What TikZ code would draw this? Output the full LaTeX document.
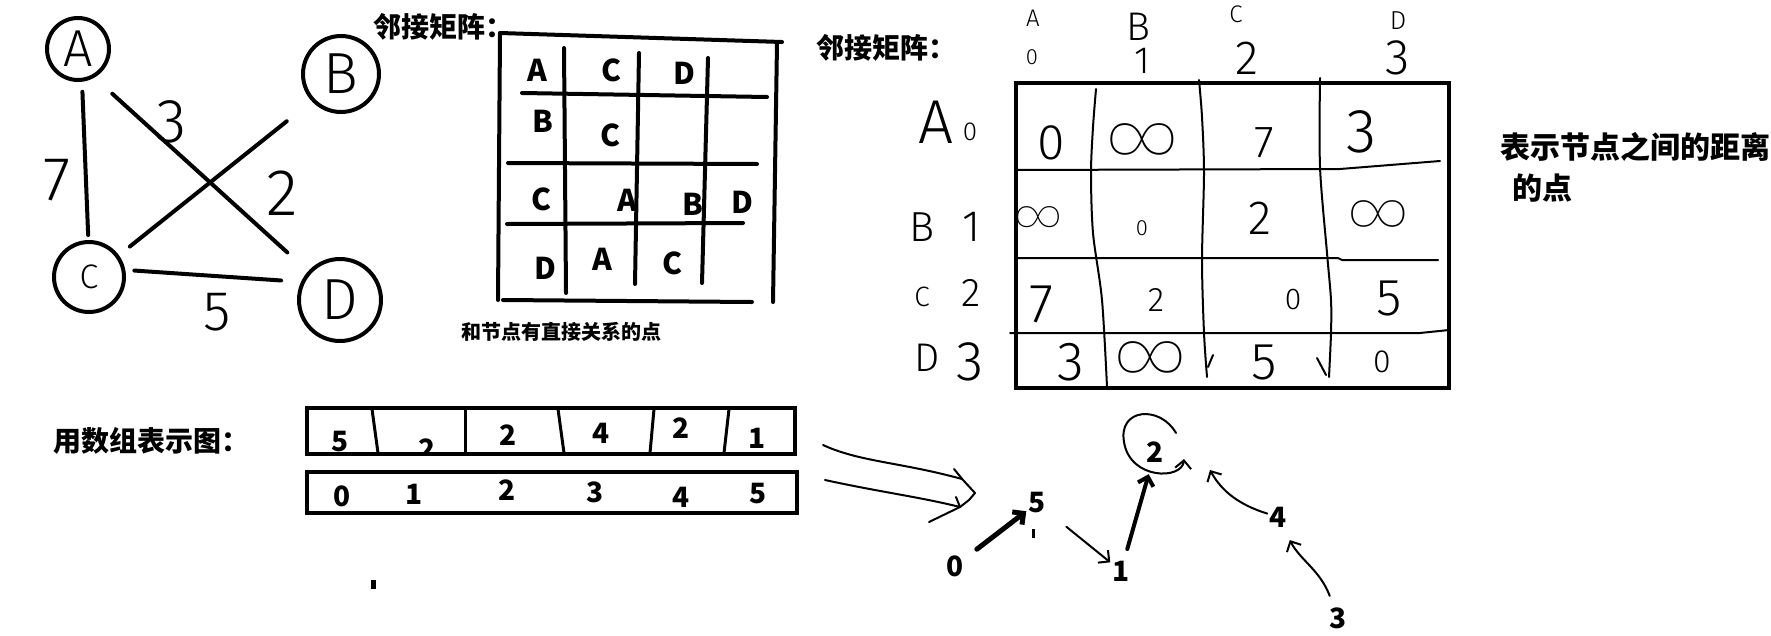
\RequirePackage{fix-cm}
\documentclass[tikz,border=0pt]{standalone}
\usepackage{fontspec}
\newfontfamily\cjk{Noto Sans CJK SC}
\newfontfamily\hand{Fira Sans Light}
\newfontfamily\thin{Fira Sans Thin}
\usetikzlibrary{arrows.meta,positioning}
\tikzstyle{line} = [line width=4pt,line cap=round]
\tikzstyle{pen} = [line width=2pt,line cap=round,line join=round]
\tikzstyle{pen>} = [pen,-{Straight Barb[length=8pt,width=16pt]}]
\tikzstyle{vertex} = [circle,draw,line width=4pt,inner sep=0pt]
\tikzstyle{printed} = [font=\cjk\bfseries\fontsize{28}{28}\selectfont,inner sep=0pt]
\tikzstyle{title} = [printed,anchor=west]
\tikzstyle{cell} = [font=\cjk\bfseries\fontsize{30}{30}\selectfont,inner sep=0pt]
\tikzset{scrawl/.style={font=\hand\fontsize{#1}{#1}\selectfont,inner sep=0pt},
         loops/.style={font=\thin\fontsize{#1}{#1}\selectfont,inner sep=0pt}}

\begin{document}
\begin{tikzpicture}[x=1pt,y=-1pt]
        \useasboundingbox (0,0) rectangle (1771,635);
        % graph
        \node[vertex,minimum size=62pt,scrawl=52] (A) at (78,49) {A};
        \node[vertex,minimum size=76pt,scrawl=58] (B) at (341,74) {B};
        \node[vertex,minimum size=70pt,scrawl=34] (C) at (89,277) {C};
        \node[vertex,minimum size=82pt,scrawl=58] (D) at (340,300) {D};
        \draw[line,shorten <=10pt,shorten >=5pt] (A.-83) -- (C.91);
        \draw[line,shorten <=24pt,shorten >=28pt] (A.-60) -- (D.138);
        \draw[line,shorten <=32pt,shorten >=14pt] (B.-137) -- (C.36);
        \draw[line,shorten <=9pt,shorten >=20pt] (C.11) -- (D.155);
        % weights
        \node[scrawl=62] (wAC) at (57,180) {7};
        \node[scrawl=62] (wAD) at (172,122) {3};
        \node[scrawl=66] (wBC) at (282,193) {2};
        \node[scrawl=56] (wCD) at (217,312) {5};

        % adjacency table
        \node[title] (title1) at (373,27) {邻接矩阵：};
        \draw[line] (500,33) -- (782,42);
        \draw[line] (500,33) -- (498,300);
        \draw[line] (777,43) -- (773,302);
        \draw[line] (503,300) -- (752,302);
        \draw[line] (522,93) -- (767,97);
        \draw[line] (508,163) -- (757,164);
        \draw[line] (507,224) -- (743,223);
        \draw[line] (564,48) -- (566,293);
        \draw[line] (639,53) -- (635,284);
        \draw[line] (708,58) -- (702,283);
        \node[cell] (a1) at (537,70) {A};
        \node[cell] (a2) at (611,70) {C};
        \node[cell] (a3) at (684,73) {D};
        \node[cell] (b1) at (543,121) {B};
        \node[cell] (b2) at (610,135) {C};
        \node[cell] (c1) at (541,199) {C};
        \node[cell] (c2) at (627,200) {A};
        \node[cell] (c3) at (693,204) {B};
        \node[cell] (c4) at (742,202) {D};
        \node[cell] (d1) at (545,268) {D};
        \node[cell] (d2) at (602,259) {A};
        \node[cell] (d3) at (672,263) {C};
        \node[printed,font=\cjk\bfseries\fontsize{20}{20}\selectfont] (note1) at (561,332) {和节点有直接关系的点};

        % distance matrix
        \node[title] (title2) at (816,48) {邻接矩阵：};
        \draw[line width=4pt] (1016,83) rectangle (1449,388);
        \draw[pen] (1016,170) -- (1340,169) -- (1440,161);
        \draw[pen] (1016,258) -- (1338,258) -- (1342,260) -- (1438,260);
        \draw[pen] (1010,333) -- (1420,333) -- (1449,330);
        \draw[pen] plot[smooth] coordinates {(1096,89) (1093,127) (1091,173) (1093,233) (1102,300) (1107,387)};
        \draw[pen] plot[smooth] coordinates {(1199,80) (1202,117) (1204,173) (1202,260) (1204,333) (1207,377)};
        \draw[pen] plot[smooth] coordinates {(1320,78) (1320,167) (1327,253) (1331,300) (1331,333) (1329,377)};
        \draw[pen] (1213,355) -- (1208,367);
        \draw[pen] (1317,358) -- (1326,375);
        % column heads
        \node[scrawl=24] (hA) at (1033,18) {A};
        \node[scrawl=22] (h0) at (1032,57) {0};
        \node[scrawl=40] (hB) at (1138,27) {B};
        \node[scrawl=38] (h1) at (1142,61) {1};
        \node[scrawl=24] (hC) at (1236,14) {C};
        \node[scrawl=48] (h2) at (1247,58) {2};
        \node[scrawl=26] (hD) at (1398,21) {D};
        \node[scrawl=50] (h3) at (1398,58) {3};
        % row heads
        \node[scrawl=62] (rA) at (936,122) {A};
        \node[scrawl=26] (r0) at (970,132) {0};
        \node[scrawl=42] (rB) at (922,227) {B};
        \node[scrawl=44] (r1) at (972,227) {1};
        \node[scrawl=28] (rC) at (922,297) {C};
        \node[scrawl=40] (r2) at (971,293) {2};
        \node[scrawl=40] (rD) at (927,358) {D};
        \node[scrawl=56] (r3) at (970,362) {3};
        % distances
        \node[scrawl=50] (dAA) at (1051,143) {0};
        \node[loops=90] (dAB) at (1142,146) {∞};
        \node[scrawl=45] (dAC) at (1264,143) {7};
        \node[scrawl=62] (dAD) at (1362,132) {3};
        \node[loops=60] (dBA) at (1038,222) {∞};
        \node[scrawl=22] (dBB) at (1142,228) {0};
        \node[scrawl=48] (dBC) at (1260,218) {2};
        \node[loops=76] (dBD) at (1378,220) {∞};
        \node[scrawl=55] (dCA) at (1042,304) {7};
        \node[scrawl=34] (dCB) at (1156,300) {2};
        \node[scrawl=30] (dCC) at (1293,300) {0};
        \node[scrawl=52] (dCD) at (1389,298) {5};
        \node[scrawl=55] (dDA) at (1071,362) {3};
        \node[loops=90] (dDB) at (1150,364) {∞};
        \node[scrawl=52] (dDC) at (1264,362) {5};
        \node[scrawl=32] (dDD) at (1382,362) {0};
        \node[title,font=\cjk\bfseries\fontsize{30}{30}\selectfont] (note2) at (1500,147) {表示节点之间的距离};
        \node[title,font=\cjk\bfseries\fontsize{30}{30}\selectfont] (note3) at (1512,188) {的点};

        % array
        \node[title] (title3) at (53,441) {用数组表示图：};
        \node[printed] (v1) at (340,442) {5};
        \begin{scope}
            \clip (307,408) rectangle (795,453);
            \node[printed] (v2) at (427,449) {2};
        \end{scope}
        \node[printed] (v3) at (508,435) {2};
        \node[printed] (v4) at (601,433) {4};
        \node[printed] (v5) at (681,428) {2};
        \node[printed] (v6) at (757,438) {1};
        \draw[line width=4pt] (307,408) rectangle (795,454);
        \draw[line width=3pt] (372,409) -- (378,453);
        \draw[line width=3pt] (465,409) -- (465,453);
        \draw[line width=3pt] (558,409) -- (564,453);
        \draw[line width=3pt] (654,409) -- (650,453);
        \draw[line width=3pt] (729,409) -- (724,453);
        \draw[line width=4pt] (307,472) rectangle (797,513);
        \node[printed] (i0) at (342,496) {0};
        \node[printed] (i1) at (414,494) {1};
        \node[printed] (i2) at (507,490) {2};
        \node[printed] (i3) at (595,492) {3};
        \node[printed] (i4) at (681,497) {4};
        \node[printed] (i5) at (758,494) {5};
        \fill (371,580) rectangle (376,589);

        % towards the tree
        \draw[pen] (823,445) .. controls (860,462) and (900,462) .. (962,479);
        \draw[pen] (825,480) .. controls (880,492) and (920,497) .. (960,507);
        \draw[pen] (954,469) -- (963,480) -- (975,493) -- (969,500) -- (960,507) -- (929,522);
        \draw[pen] (956,497) -- (960,507);

        % tree
        \node[printed,inner sep=2pt] (n0) at (955,566) {0};
        \node[printed,inner sep=2pt] (n5) at (1037,503) {5};
        \node[printed,inner sep=2pt] (n1) at (1121,571) {1};
        \node[printed,inner sep=2pt] (n2) at (1155,452) {2};
        \node[printed,inner sep=2pt] (n4) at (1278,517) {4};
        \node[printed,inner sep=2pt] (n3) at (1338,618) {3};
        \draw[line width=3pt] (1033,529) -- (1033,538);
        \draw[pen>,line width=5pt,shorten <=14pt] (n0) -- (n5);
        \draw[pen>,shorten <=24pt] (n5) -- (n1);
        \draw[pen>,line width=4pt,shorten <=10pt,shorten >=10pt] (n1) -- (n2);
        \coordinate (loopS) at (1176,433);
        \coordinate (loopE) at (1184,459);
        \draw[pen>] (loopS) .. controls (1160,405) and (1118,408) .. (1124,442) .. controls (1130,480) and (1182,480) .. (loopE);
        \coordinate (tip42) at (1210,470);
        \draw[pen>] (n4) .. controls (1240,505) and (1222,492) .. (tip42);
        \draw[pen>,shorten <=10pt,shorten >=12pt] (n3) .. controls (1320,570) and (1300,560) .. (n4);
\end{tikzpicture}
\end{document}
